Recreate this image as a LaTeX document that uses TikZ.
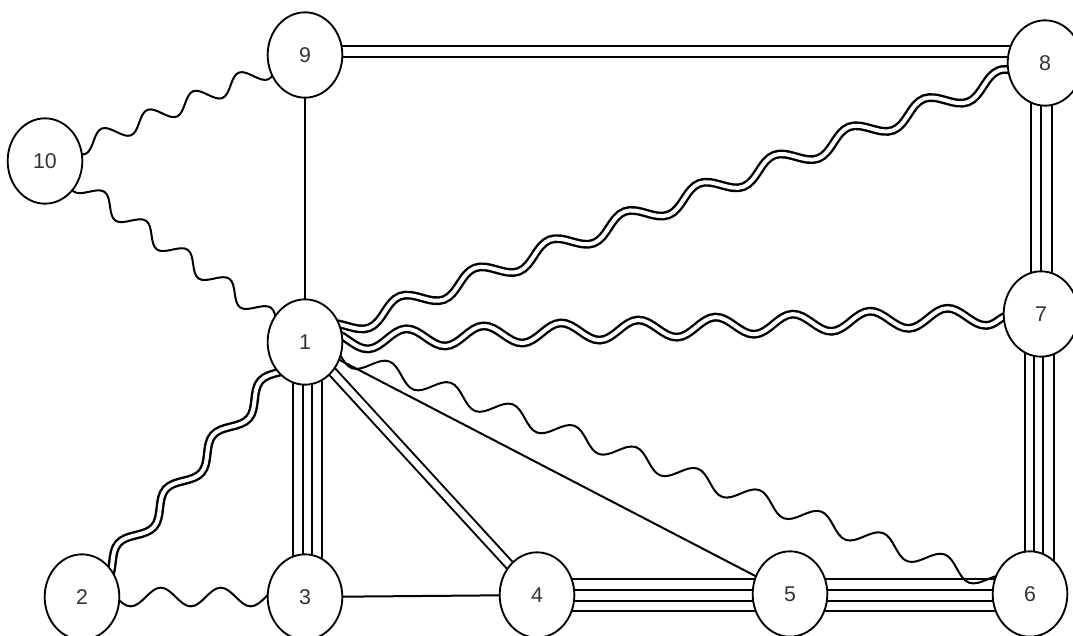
\documentclass[tikz,border=0pt]{standalone}
\usepackage{fontspec}
\setmainfont{Liberation Sans}
\usetikzlibrary{shapes.geometric,decorations.pathmorphing,calc,backgrounds}
\begin{document}
\begin{tikzpicture}[x=0.75pt,y=-0.75pt,
  vtx/.style={ellipse,draw,line width=1.4pt,fill=white,minimum width=56pt,minimum height=64pt,inner sep=0pt,font=\fontsize{16}{16}\selectfont,text=black!80},
  ln/.style={line width=1.5pt},
  dbl/.style={double,double distance=3pt},
  wave/.style 2 args={decorate,decoration={snake,amplitude=#1,segment length=#2}}]
\useasboundingbox (0,0) rectangle (1073,635);
\node[vtx] (n9) at (305,55) {9};
\node[vtx] (n10) at (45,161) {10};
\node[vtx] (n8) at (1045,63) {8};
\node[vtx] (n7) at (1041,314) {7};
\node[vtx] (n1) at (305,342) {1};
\node[vtx] (n2) at (82,597) {2};
\node[vtx] (n3) at (305,597) {3};
\node[vtx] (n4) at (537,595) {4};
\node[vtx] (n5) at (790,594) {5};
\node[vtx] (n6) at (1030,594) {6};
\begin{scope}[on background layer]
\begin{scope}[ln]
  % straight edges
  \foreach \d in {-9,2} \draw ($(n9.center)+(0,\d)$) -- ($(n9.center -| n8.center)+(0,\d)$);
  \foreach \d in {-10,0,11} \draw ($(n7.center)+(\d,0)$) -- ($(n7.center |- n8.center)+(\d,0)$);
  \foreach \d in {-16,-7,2,13} \draw ($(n7.center)+(\d,0)$) -- ($(n7.center |- n6.center)+(\d,0)$);
  \foreach \d in {-12,-2,7,17} \draw ($(n1.center)+(\d,0)$) -- ($(n1.center |- n3.center)+(\d,0)$);
  \foreach \d in {-16,-5,6,16} \draw ($(n4.center)+(0,\d)$) -- ($(n4.center -| n6.center)+(0,\d)$);
  \draw (n3.center) -- (n4.center);
  \draw (n9.center) -- (n1.center);
  \draw (n1.center) -- (n5.center);
  \draw[dbl,double distance=5pt] (n1.center) -- (n4.center);
  % wavy edges
  \draw[wave={6.5pt}{37pt}] (n10.center) -- (n9.center);
  \draw[wave={6.5pt}{38pt}] (n10.center) -- (n1.center);
  \draw[wave={7pt}{45pt}] (n2.center) -- (n3.center);
  \draw[wave={7pt}{49pt}] (n1.center) -- (n6.center);
  \draw[dbl,line width=1.8pt,wave={6pt}{54pt}] (n1.center) -- (n2.center);
  \draw[dbl,line width=1.8pt,wave={7pt}{58pt}] (n1.center) -- (n7.center);
  \draw[dbl,line width=1.8pt,wave={7pt}{60pt}] (n1.center) -- (n8.center);
\end{scope}
\end{scope}
\end{tikzpicture}
\end{document}
